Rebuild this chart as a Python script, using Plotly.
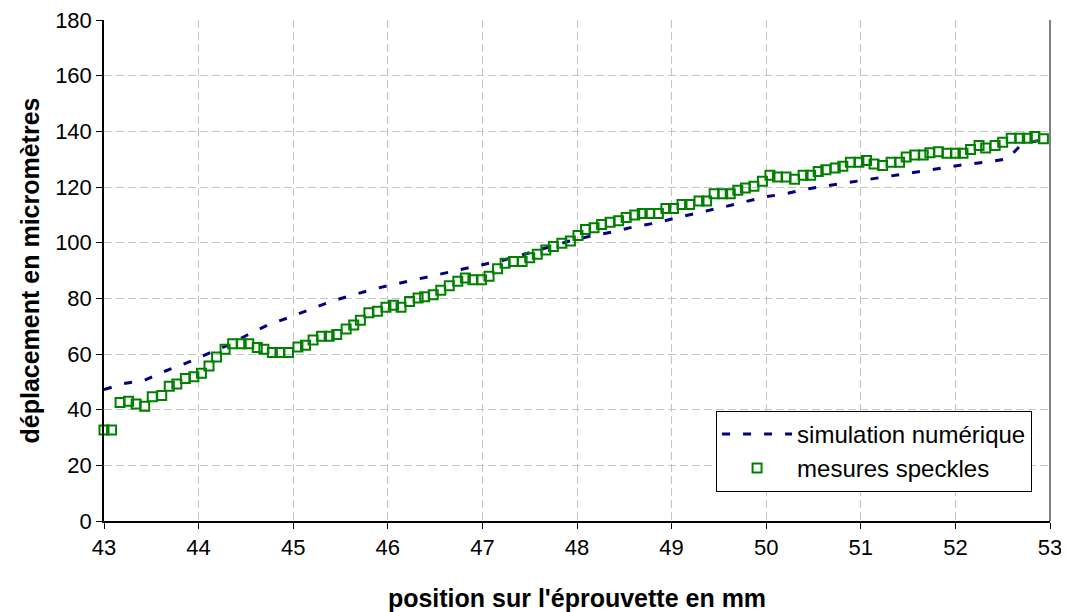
import plotly.graph_objects as go

# mesures speckles (position en mm, déplacement en µm)
x_mesures = [43.00, 43.08, 43.17, 43.26, 43.34, 43.43, 43.51, 43.61, 43.69, 43.77,
             43.86, 43.95, 44.03, 44.11, 44.19, 44.28, 44.36, 44.45, 44.53, 44.62,
             44.69, 44.78, 44.86, 44.95, 45.05, 45.13, 45.21, 45.30, 45.38, 45.46,
             45.56, 45.64, 45.71, 45.80, 45.89, 45.98, 46.06, 46.14, 46.23, 46.32,
             46.39, 46.48, 46.56, 46.65, 46.74, 46.82, 46.90, 46.99, 47.07, 47.16,
             47.24, 47.33, 47.42, 47.50, 47.58, 47.67, 47.75, 47.84, 47.93, 48.01,
             48.09, 48.18, 48.26, 48.35, 48.44, 48.52, 48.61, 48.69, 48.77, 48.86,
             48.94, 49.02, 49.11, 49.19, 49.29, 49.37, 49.45, 49.54, 49.62, 49.70,
             49.78, 49.87, 49.96, 50.04, 50.12, 50.21, 50.30, 50.39, 50.47, 50.55,
             50.63, 50.73, 50.81, 50.89, 50.98, 51.06, 51.14, 51.23, 51.32, 51.41,
             51.48, 51.57, 51.66, 51.73, 51.82, 51.91, 52.00, 52.08, 52.16, 52.25,
             52.32, 52.42, 52.50, 52.59, 52.68, 52.76, 52.84, 52.93]
y_mesures = [32.7, 32.7, 42.6, 43.0, 42.0, 41.2, 44.6, 45.1, 48.4, 49.2,
             51.2, 51.8, 53.1, 55.7, 58.9, 61.7, 63.7, 63.7, 63.7, 62.3,
             61.7, 60.5, 60.5, 60.5, 62.5, 63.1, 65.0, 66.4, 66.4, 67.0,
             69.0, 70.4, 72.1, 74.8, 75.4, 76.8, 77.5, 76.8, 78.9, 80.1,
             80.6, 81.3, 82.9, 84.5, 86.1, 87.3, 86.7, 86.7, 87.9, 90.6,
             92.6, 93.2, 93.2, 94.6, 95.8, 97.4, 98.6, 99.8, 100.6, 102.6,
             104.7, 105.4, 106.5, 107.3, 107.9, 109.0, 109.9, 110.5, 110.5, 110.5,
             112.3, 112.3, 113.7, 113.7, 115.0, 115.0, 117.6, 117.6, 117.6, 118.8,
             119.6, 120.3, 122.1, 124.2, 123.6, 123.6, 122.8, 124.2, 124.2, 125.6,
             126.2, 126.8, 127.5, 128.9, 128.9, 129.5, 128.3, 127.7, 128.9, 128.9,
             130.8, 131.5, 131.5, 132.3, 132.7, 132.1, 132.1, 132.1, 133.5, 134.9,
             134.0, 134.9, 136.1, 137.5, 137.5, 137.5, 138.1, 137.3]

# simulation numérique
x_simu = [43.00, 43.20, 43.43, 43.65, 43.88, 44.10, 44.31, 44.52, 44.73, 44.96,
          45.17, 45.40, 45.64, 45.87, 46.09, 46.32, 46.55, 46.78, 47.00, 47.23,
          47.46, 47.67, 47.92, 48.15, 48.38, 48.60, 48.84, 49.06, 49.30, 49.51,
          49.74, 49.98, 50.21, 50.45, 50.68, 50.91, 51.14, 51.38, 51.61, 51.85,
          52.08, 52.31, 52.55, 52.71, 52.93]
y_simu = [47.2, 49.3, 50.6, 53.9, 56.9, 60.2, 63.2, 66.9, 70.4, 73.2,
          75.8, 78.9, 81.3, 83.5, 85.2, 86.9, 88.7, 90.5, 92.0, 93.8,
          96.0, 98.0, 100.6, 102.4, 103.9, 105.7, 107.1, 109.0, 110.8, 112.5,
          114.4, 116.4, 117.6, 119.4, 120.6, 121.8, 123.0, 124.4, 125.6, 126.6,
          128.0, 128.9, 130.1, 135.7, 136.9]

x_ticks = [43, 44, 45, 46, 47, 48, 49, 50, 51, 52, 53]
y_ticks = [0, 20, 40, 60, 80, 100, 120, 140, 160, 180]

police = "Arial, Liberation Sans, sans-serif"

fig = go.Figure()

fig.add_trace(go.Scatter(x=x_simu, y=y_simu, mode='lines',
                         name='simulation numérique',
                         line=dict(color='#000080', width=3, dash='8px,13px')))

fig.add_trace(go.Scatter(x=x_mesures, y=y_mesures, mode='markers',
                         name='mesures speckles', cliponaxis=False,
                         marker=dict(symbol='square-open', size=9, color='#008000',
                                     line=dict(width=2, color='#008000'))))

# la page ajoute 8 px de marge autour du graphique : marges compensées
fig.update_layout(
    width=1069, height=612,
    margin=dict(l=96, r=27, t=12, b=99),
    paper_bgcolor='white', plot_bgcolor='white',
    font=dict(family=police, size=22, color='black'),
    showlegend=True,
    legend=dict(x=0.647, y=0.22, xanchor='left', yanchor='top',
                bgcolor='white', bordercolor='black', borderwidth=1,
                font=dict(size=24), itemwidth=70),
    xaxis=dict(range=[43, 53], tickvals=x_ticks, automargin=False,
               showline=True, linecolor='black', linewidth=1.5,
               ticks='outside', ticklen=6, tickcolor='black',
               tickfont=dict(size=22), ticklabeloverflow='allow',
               showgrid=True, gridcolor='#c4c4c4', griddash='8px,4px', gridwidth=1,
               zeroline=False,
               title=dict(text="<b>position sur l'éprouvette en mm</b>",
                          font=dict(size=25), standoff=30)),
    yaxis=dict(range=[0, 180], tickvals=y_ticks, automargin=False,
               showline=True, linecolor='black', linewidth=1.5,
               ticks='outside', ticklen=6, tickcolor='black',
               tickfont=dict(size=22), ticklabeloverflow='allow',
               showgrid=True, gridcolor='#c4c4c4', griddash='8px,4px', gridwidth=1,
               zeroline=False,
               title=dict(text='<b>déplacement en micromètres</b>',
                          font=dict(size=25), standoff=8)),
)

# bord droit du cadre
fig.add_shape(type='line', xref='paper', yref='paper', x0=1, x1=1, y0=0, y1=1,
              line=dict(color='#808080', width=2))

fig.write_html("out.html")
